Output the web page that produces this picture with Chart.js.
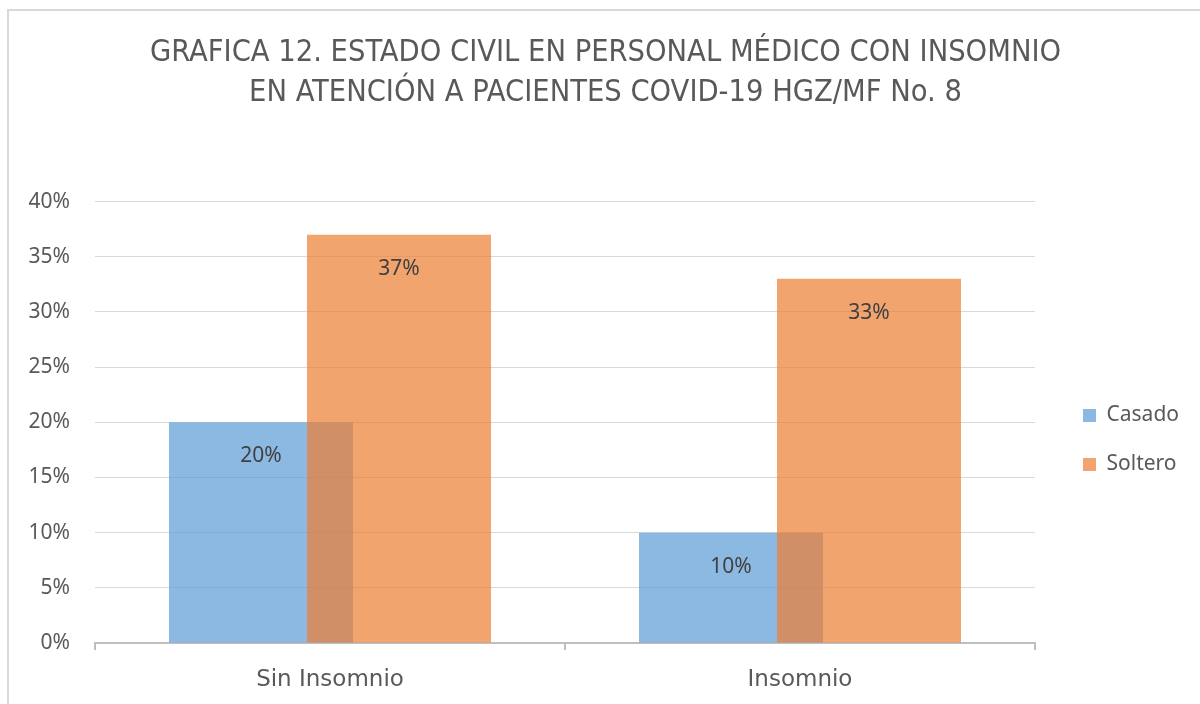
<!DOCTYPE html>
<html>
<head>
<meta charset="utf-8">
<script src="https://cdn.jsdelivr.net/npm/chart.js@4"></script>
<style>
  body { margin: 0; background: #fff; }
  #frame {
    position: absolute; left: 7px; top: 9px; width: 1200px; height: 700px;
    border-left: 2px solid #d9d9d9; border-top: 2px solid #d9d9d9;
  }
  #wrap { position: absolute; left: 0; top: 0; width: 1200px; height: 704px; }
</style>
</head>
<body>
<div id="frame"></div>
<div id="wrap"><canvas id="chart"></canvas></div>
<script>
// datos
const categories = ["Sin Insomnio", "Insomnio"];
const casado = [20, 10];
const soltero = [37, 33];
const yTicks = [0, 5, 10, 15, 20, 25, 30, 35, 40];
const titleLines = [
  "GRAFICA 12. ESTADO CIVIL EN PERSONAL MÉDICO CON INSOMNIO",
  "EN ATENCIÓN A PACIENTES COVID-19 HGZ/MF No. 8"
];

const textColor = "#595959";
const fontFam = "'Noto Sans', sans-serif";
const shift = 0.1468; // desplazamiento de barras (solapamiento tipo Excel)

// etiquetas dentro de las barras + ajustes de posicion
const barLabels = {
  id: "barLabels",
  afterLayout(chart) {
    // leyenda y titulo un poco a la derecha, como en Excel
    chart.legend.left += 20;
    chart.legend.right += 20;
    chart.titleBlock.left += 21;
    chart.titleBlock.right += 21;
  },
  afterDatasetsDraw(chart) {
    const ctx = chart.ctx;
    ctx.save();
    ctx.font = "21px " + fontFam;
    ctx.fillStyle = "#404040";
    ctx.textAlign = "center";
    ctx.textBaseline = "middle";
    chart.data.datasets.forEach((ds, i) => {
      chart.getDatasetMeta(i).data.forEach((bar, j) => {
        ctx.fillText(ds.data[j].y + "%", bar.x, bar.y + 34);
      });
    });
    ctx.restore();
  }
};

const hiddenTicks = (s) => { s.ticks = [{ value: 0 }, { value: 1 }]; };

new Chart(document.getElementById("chart"), {
  type: "bar",
  data: {
    labels: categories,
    datasets: [
      {
        label: "Casado",
        data: casado.map((v, i) => ({ x: i, y: v })),
        backgroundColor: "rgba(91,155,213,0.7)",
        xAxisID: "xCasado",
        order: 1
      },
      {
        label: "Soltero",
        data: soltero.map((v, i) => ({ x: i, y: v })),
        backgroundColor: "rgba(237,125,49,0.7)",
        xAxisID: "xSoltero",
        order: 0
      }
    ]
  },
  options: {
    responsive: true,
    maintainAspectRatio: false,
    animation: false,
    layout: { padding: { left: 0, right: 31, top: 0, bottom: 0 } },
    datasets: { bar: { grouped: false, barPercentage: 1, categoryPercentage: 0.3915 } },
    plugins: {
      title: {
        display: true,
        text: titleLines,
        color: textColor,
        font: { family: "'Liberation Sans Narrow', 'DejaVu Sans Condensed', 'Liberation Sans'", size: 30.5, weight: "normal", lineHeight: 1.32 },
        padding: { top: 33, bottom: 88 }
      },
      legend: {
        position: "right",
        title: { display: true, text: " ", font: { size: 20, lineHeight: 1.2 }, padding: { top: 152, bottom: 0 } },
        labels: {
          color: textColor,
          font: { family: fontFam, size: 21 },
          boxWidth: 13,
          boxHeight: 13,
          padding: 28,
          sort: (a, b) => a.datasetIndex - b.datasetIndex
        }
      },
      tooltip: { enabled: false }
    },
    scales: {
      x: {
        type: "category",
        offset: true,
        grid: { offset: true, drawOnChartArea: false, color: "#bfbfbf", lineWidth: 2, tickLength: 7 },
        border: { color: "#bfbfbf", width: 2 },
        ticks: { color: textColor, font: { family: "'DejaVu Sans', sans-serif", size: 23 }, padding: 16 },
        afterFit: (s) => { s.height = 61; }
      },
      xCasado: { type: "linear", display: false, offset: false, min: -0.5 + shift, max: 1.5 + shift, afterBuildTicks: hiddenTicks },
      xSoltero: { type: "linear", display: false, offset: false, min: -0.5 - shift, max: 1.5 - shift, afterBuildTicks: hiddenTicks },
      y: {
        min: 0,
        max: 40,
        afterBuildTicks: (s) => { s.ticks = yTicks.map((v) => ({ value: v })); },
        grid: { color: "#d9d9d9", drawTicks: false },
        border: { display: false },
        ticks: {
          color: textColor,
          font: { family: fontFam, size: 21 },
          padding: 25,
          callback: (v) => v + "%"
        },
        afterFit: (s) => { s.width = 95; }
      }
    }
  },
  plugins: [barLabels]
});
</script>
</body>
</html>
